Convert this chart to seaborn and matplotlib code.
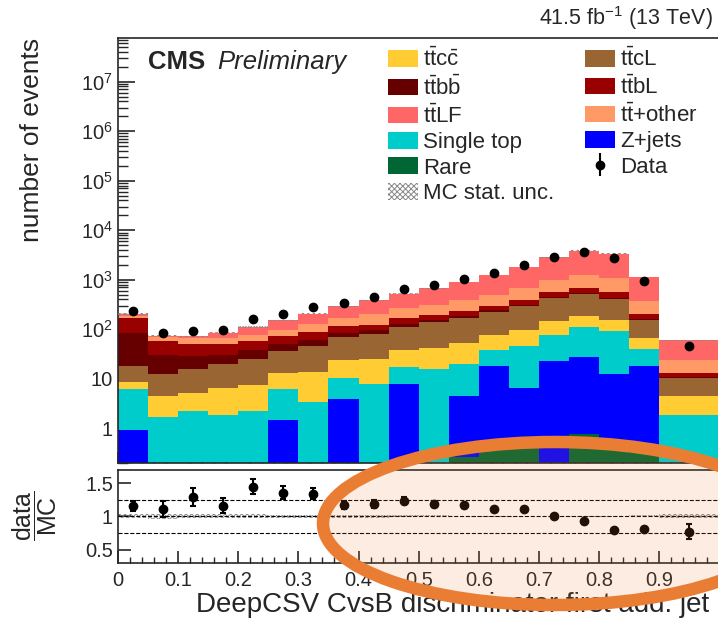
import numpy as np
import pandas as pd
import seaborn as sns
import matplotlib.pyplot as plt
from matplotlib.patches import Patch, Ellipse
from matplotlib.ticker import MultipleLocator, LogLocator, FuncFormatter, NullFormatter

# binning of the discriminator (last bin is wider)
bin_edges = [0.0, 0.05, 0.1, 0.15, 0.2, 0.25, 0.3, 0.35, 0.4, 0.45, 0.5,
             0.55, 0.6, 0.65, 0.7, 0.75, 0.8, 0.85, 0.9, 1.0]

# expected events per process
rare = [0.05, 0.05, 0.05, 0.05, 0.05, 0.05, 0.05, 0.05, 0.05, 0.05,
        0.05, 0.26, 0.36, 0.44, 0.1, 0.78, 0.57, 0.32, 0.05]
zjets = [0.88, 0.1, 0.1, 0.1, 0.1, 1.4, 0.1, 3.95, 0.1, 7.65,
         0.1, 4.24, 17.6, 6.0, 22.7, 27.1, 11.7, 17.7, 0.1]
single_top = [5.17, 1.54, 2.05, 1.75, 2.05, 4.65, 3.25, 6.5, 7.55, 9.8,
              15.85, 15.0, 21.0, 39.3, 55.8, 84.0, 79.3, 22.4, 1.7]
ttcc = [2.6, 2.81, 3.0, 4.7, 5.4, 7.2, 10.3, 13.0, 16.9, 20.5,
        26.3, 33.9, 39.6, 53.3, 67.4, 78.0, 61.4, 24.9, 2.64]
ttcl = [9.3, 7.8, 10.8, 13.2, 17.8, 22.9, 33.3, 47.0, 56.4, 74.0,
        96.7, 116.6, 149.4, 202.0, 278.0, 329.0, 258.0, 90.0, 6.0]
ttbb = [67.0, 17.7, 12.7, 10.2, 12.6, 13.2, 12.5, 14.5, 18.0, 17.0,
        14.0, 20.0, 23.0, 15.0, 20.0, 25.0, 20.0, 8.0, 0.5]
ttbl = [85.0, 27.6, 22.3, 21.0, 19.6, 23.2, 28.0, 31.0, 26.0, 41.0,
        40.0, 49.0, 51.0, 68.0, 116.0, 142.0, 129.0, 36.0, 2.3]
tt_other = [20.0, 12.9, 14.3, 16.3, 21.0, 26.4, 41.5, 54.0, 83.0, 101.0,
            118.0, 160.0, 201.0, 298.0, 450.0, 587.0, 531.0, 170.0, 10.2]
ttlf = [15.0, 4.5, 7.3, 17.7, 33.4, 54.0, 79.0, 123.0, 178.0, 256.0,
        364.0, 507.0, 750.0, 1120.0, 1834.0, 2606.0, 2284.0, 774.0, 36.0]

# observed data and relative MC statistical uncertainty
data_events = [238, 83, 94, 99, 162, 208, 279, 343, 459, 653,
               803, 1060, 1391, 2017, 2872, 3588, 2700, 926, 46]
mc_rel_unc = [0.03, 0.04, 0.03, 0.03, 0.03, 0.025, 0.02, 0.02, 0.02, 0.015,
              0.015, 0.012, 0.01, 0.01, 0.01, 0.01, 0.01, 0.015, 0.03]

ratio_lines = [0.75, 1.0, 1.25]

# stack order, top to bottom (seaborn puts the first hue level on top)
processes = {
    'ttLF': (ttlf, '#ff6666', r'$\mathrm{t\bar{t}LF}$'),
    'ttother': (tt_other, '#ff9966', r'$\mathrm{t\bar{t}}$+other'),
    'ttbL': (ttbl, '#990000', r'$\mathrm{t\bar{t}bL}$'),
    'ttbb': (ttbb, '#660000', r'$\mathrm{t\bar{t}b\bar{b}}$'),
    'ttcL': (ttcl, '#996633', r'$\mathrm{t\bar{t}cL}$'),
    'ttcc': (ttcc, '#ffcc33', r'$\mathrm{t\bar{t}c\bar{c}}$'),
    'Single top': (single_top, '#00cccc', 'Single top'),
    'Z+jets': (zjets, '#0000ff', 'Z+jets'),
    'Rare': (rare, '#006633', 'Rare'),
}

edges = np.array(bin_edges)
centers = 0.5 * (edges[:-1] + edges[1:])
widths = np.diff(edges)

rows = []
for name, (vals, col, lab) in processes.items():
    for c, v in zip(centers, vals):
        rows.append({'x': c, 'events': v, 'process': name})
df = pd.DataFrame(rows)

sns.set_style('ticks')
plt.rcParams['font.family'] = ['Liberation Sans', 'DejaVu Sans']
plt.rcParams['mathtext.fontset'] = 'custom'
plt.rcParams['mathtext.rm'] = 'Liberation Sans'
plt.rcParams['mathtext.it'] = 'Liberation Sans:italic'
plt.rcParams['hatch.linewidth'] = 0.7

fig = plt.figure(figsize=(7.18, 6.21), dpi=100)
ax = fig.add_axes([0.1643, 0.2544, 0.8377, 0.6844])
rax = fig.add_axes([0.1643, 0.0934, 0.8377, 0.1498])

palette = {k: v[1] for k, v in processes.items()}
sns.histplot(data=df, x='x', weights='events', hue='process',
             hue_order=list(processes.keys()), palette=palette,
             multiple='stack', bins=bin_edges, element='bars',
             alpha=1, linewidth=0, legend=False, ax=ax)
ax.set_yscale('log')

total = np.sum([v[0] for v in processes.values()], axis=0)
unc = np.array(mc_rel_unc)
data = np.array(data_events, dtype=float)

ax.bar(centers, 2 * unc * total, bottom=total * (1 - unc), width=widths,
       fill=False, hatch='xxxxxx', edgecolor='#888888', linewidth=0, zorder=4)
data_handle = ax.errorbar(centers, data, yerr=np.sqrt(data), fmt='o', color='k',
                          ms=6, elinewidth=1.5, capsize=0, zorder=6, label='Data')

ax.set_xlim(0, 1)
ax.set_ylim(0.2, 7.6e7)
ax.set_xlabel('')
ax.set_ylabel('')
ax.xaxis.set_major_locator(MultipleLocator(0.1))
ax.xaxis.set_minor_locator(MultipleLocator(0.02))
ax.xaxis.set_major_formatter(NullFormatter())
ax.yaxis.set_major_locator(LogLocator(base=10, numticks=20))
ax.yaxis.set_minor_locator(LogLocator(base=10, subs=np.arange(2, 10), numticks=20))
ax.yaxis.set_minor_formatter(NullFormatter())


def log_label(v, pos):
    if v < 0.5:
        return ''
    if v < 2:
        return '1'
    if v < 20:
        return '10'
    return r'$10^{%d}$' % round(np.log10(v))


ax.yaxis.set_major_formatter(FuncFormatter(log_label))
ax.tick_params(axis='y', which='major', direction='in', length=12, width=1.2, labelsize=14.5)
ax.tick_params(axis='y', which='minor', direction='in', length=7, width=1)
ax.tick_params(axis='x', which='major', direction='in', length=8, width=1.2)
ax.tick_params(axis='x', which='minor', direction='in', length=4, width=1)
for s in ax.spines.values():
    s.set_linewidth(1.2)

# ratio panel
ratio = data / total
ratio_err = np.sqrt(data) / total
rax.bar(centers, 2 * unc, bottom=1 - unc, width=widths, fill=False,
        hatch='xxxxxx', edgecolor='#888888', linewidth=0, zorder=2)
for y in ratio_lines:
    rax.axhline(y, color='k', ls='--', lw=0.8, zorder=3)
rax.errorbar(centers, ratio, yerr=ratio_err, fmt='o', color='k', ms=6,
             elinewidth=1.5, capsize=2.5, capthick=1.5, zorder=5)
rax.set_xlim(0, 1)
rax.set_ylim(0.3, 1.7)
rax.set_yticks([0.5, 1.0, 1.5])
rax.yaxis.set_major_formatter(FuncFormatter(lambda v, p: '%g' % v))
rax.xaxis.set_major_locator(MultipleLocator(0.1))
rax.xaxis.set_minor_locator(MultipleLocator(0.02))
rax.xaxis.set_major_formatter(FuncFormatter(lambda v, p: '' if v > 0.95 else '%g' % round(v, 1)))
rax.tick_params(axis='both', which='major', direction='in', length=9, width=1.2, labelsize=14.5)
rax.tick_params(axis='both', which='minor', direction='in', length=4, width=1)
rax.tick_params(axis='x', pad=6)
for s in rax.spines.values():
    s.set_linewidth(1.2)

# texts
fig.text(32 / 718, 1 - 140 / 621, 'number of events', rotation=90,
         ha='center', va='center', fontsize=19)
fig.text(35 / 718, 1 - 516 / 621, r'$\dfrac{\mathrm{data}}{\mathrm{MC}}$',
         rotation=90, ha='center', va='center', fontsize=18)
fig.text(196 / 718, 1 - 612 / 621, 'DeepCSV CvsB discriminator first add. jet',
         ha='left', va='baseline', fontsize=20)
fig.text(713 / 718, 1 - 18 / 621, r'41.5 fb$^{-1}$ (13 TeV)', ha='right',
         va='center', fontsize=15.5)
fig.text(148 / 718, 1 - 62 / 621, 'CMS', fontweight='bold', ha='left',
         va='center', fontsize=18.5)
fig.text(217 / 718, 1 - 62 / 621, 'Preliminary', style='italic', ha='left',
         va='center', fontsize=18.5)

# legend in two columns
def box(name):
    return Patch(facecolor=processes[name][1], edgecolor='none', label=processes[name][2])


col1 = [box('ttcc'), box('ttbb'), box('ttLF'), box('Single top'), box('Rare'),
        Patch(facecolor='white', edgecolor='#888888', hatch='xxxxxx', lw=0, label='MC stat. unc.')]
col2 = [box('ttcL'), box('ttbL'), box('ttother'), box('Z+jets'), data_handle]
leg_kw = dict(loc='upper left', frameon=False, fontsize=16, borderpad=0,
              borderaxespad=0, handlelength=1.35, handleheight=0.77,
              handletextpad=0.23, labelspacing=0.2)
fig.legend(handles=col1, bbox_to_anchor=(388 / 718, 1 - 48 / 621), **leg_kw)
fig.legend(handles=col2, bbox_to_anchor=(585 / 718, 1 - 48 / 621), **leg_kw)

# highlight ellipse drawn over the plot
fig.add_artist(Ellipse((555 / 718, 1 - 523.5 / 621), 464 / 718, 163 / 621,
                       transform=fig.transFigure, facecolor=(0.918, 0.49, 0.204, 0.14),
                       edgecolor='#ea7d34', lw=9, zorder=10))

fig.savefig('out.png', dpi=100)
